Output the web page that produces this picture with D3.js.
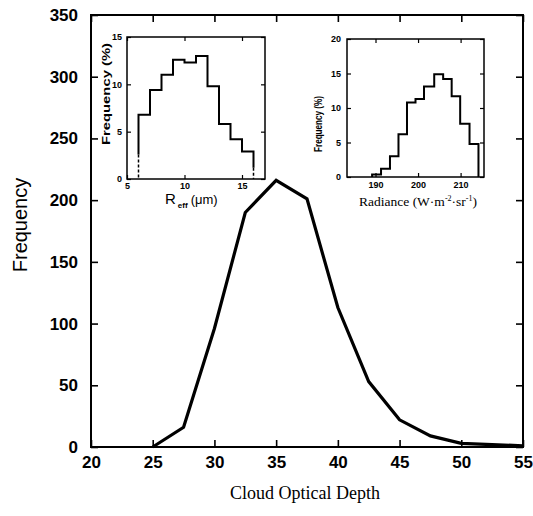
<!DOCTYPE html>
<html>
<head>
<meta charset="utf-8">
<script src="https://cdn.jsdelivr.net/npm/d3@7"></script>
<style>
  html, body { margin: 0; padding: 0; background: #fff; }
  svg { display: block; }
</style>
</head>
<body>
<svg id="chart" width="533" height="516"></svg>
<script>
// ---- Main chart data ----
const opticalDepth = [25, 27.5, 30, 32.5, 35, 37.5, 40, 42.5, 45, 47.5, 50, 52.5, 55];
const frequency    = [0, 16, 96, 190, 216, 201, 113, 53, 22, 9, 3, 2, 1];
const mainXTicks = [20, 25, 30, 35, 40, 45, 50, 55];
const mainYTicks = [0, 50, 100, 150, 200, 250, 300, 350];

// ---- Inset 1: effective radius histogram ----
const reffEdges  = [6, 7, 8, 9, 10, 11, 12, 13, 14, 15, 16];
const reffFreq   = [6.8, 9.4, 11.0, 12.6, 12.3, 13.0, 9.8, 5.8, 4.2, 2.9];
const reffDashTop = [2.6, 1.2]; // solid part ends here on left / right edges (dashed below)
const reffXTicks = [5, 10, 15];
const reffYTicks = [0, 5, 10, 15];

// ---- Inset 2: radiance histogram ----
const radEdges = [189.2, 191.3, 193.4, 195.4, 197.4, 199.4, 201.4, 203.8, 205.9, 207.9, 209.9, 212.1, 214.2];
const radFreq  = [0.35, 1.2, 3.0, 6.2, 10.8, 11.3, 13.1, 14.9, 14.2, 11.7, 7.7, 4.8];
const radXTicks = [190, 200, 210];
const radYTicks = [0, 5, 10, 15, 20];

const svg = d3.select("#chart");
const sans = "'Liberation Sans', Arial, Helvetica, sans-serif";
const serif = "'Liberation Serif', 'Times New Roman', Times, serif";

// ---------- Main plot ----------
const M = {left: 91, right: 523, top: 15, bottom: 447};
const x = d3.scaleLinear().domain([20, 55]).range([M.left, M.right]);
const y = d3.scaleLinear().domain([0, 350]).range([M.bottom, M.top]);

function styleAxis(g, size, weight) {
  g.select(".domain").remove();
  g.selectAll(".tick line").attr("stroke", "#000").attr("stroke-width", 1.6);
  g.selectAll("text").attr("fill", "#000").style("font-family", sans)
    .style("font-size", size + "px").style("font-weight", weight);
}

svg.append("g").attr("transform", `translate(${M.left},0)`)
  .call(d3.axisLeft(y).tickValues(mainYTicks).tickSize(-7).tickPadding(13))
  .call(g => styleAxis(g, 17, "bold"));
svg.append("g").attr("transform", `translate(${M.right},0)`)
  .call(d3.axisRight(y).tickValues(mainYTicks).tickSize(-7).tickFormat(""))
  .call(g => styleAxis(g, 17, "bold"));
svg.append("g").attr("transform", `translate(0,${M.bottom})`)
  .call(d3.axisBottom(x).tickValues(mainXTicks).tickSize(-7).tickPadding(9))
  .call(g => styleAxis(g, 17, "bold"));
svg.append("g").attr("transform", `translate(0,${M.top})`)
  .call(d3.axisTop(x).tickValues(mainXTicks).tickSize(-7).tickFormat(""))
  .call(g => styleAxis(g, 17, "bold"));

svg.append("rect")
  .attr("x", M.left).attr("y", M.top)
  .attr("width", M.right - M.left).attr("height", M.bottom - M.top)
  .attr("fill", "none").attr("stroke", "#000").attr("stroke-width", 2);

const line = d3.line().x((d, i) => x(opticalDepth[i])).y(d => y(d));
svg.append("path").datum(frequency)
  .attr("d", line).attr("fill", "none")
  .attr("stroke", "#000").attr("stroke-width", 3.2)
  .attr("stroke-linejoin", "miter");

svg.append("text")
  .attr("transform", `translate(27,225) rotate(-90)`)
  .attr("text-anchor", "middle")
  .style("font-family", sans).style("font-size", "20px")
  .text("Frequency");

svg.append("text")
  .attr("x", 305).attr("y", 499)
  .attr("text-anchor", "middle")
  .style("font-family", serif).style("font-size", "18px")
  .text("Cloud Optical Depth");

// ---------- Insets ----------
function inset(box, xDom, yDom, xTicks, yTicks, yPadL, xPad) {
  const sx = d3.scaleLinear().domain(xDom).range([box.left, box.right]);
  const sy = d3.scaleLinear().domain(yDom).range([box.bottom, box.top]);
  const g = svg.append("g");
  g.append("rect").attr("x", box.left).attr("y", box.top)
    .attr("width", box.right - box.left).attr("height", box.bottom - box.top)
    .attr("fill", "#fff").attr("stroke", "#000").attr("stroke-width", 1.5);
  g.append("g").attr("transform", `translate(${box.left},0)`)
    .call(d3.axisLeft(sy).tickValues(yTicks).tickSize(-4).tickPadding(yPadL))
    .call(a => styleAxis(a, 9, "bold"));
  g.append("g").attr("transform", `translate(${box.right},0)`)
    .call(d3.axisRight(sy).tickValues(yTicks).tickSize(-4).tickFormat(""))
    .call(a => styleAxis(a, 9, "bold"));
  g.append("g").attr("transform", `translate(0,${box.bottom})`)
    .call(d3.axisBottom(sx).tickValues(xTicks).tickSize(-4).tickPadding(xPad))
    .call(a => styleAxis(a, 9, "bold"));
  g.append("g").attr("transform", `translate(0,${box.top})`)
    .call(d3.axisTop(sx).tickValues(xTicks).tickSize(-4).tickFormat(""))
    .call(a => styleAxis(a, 9, "bold"));
  g.selectAll(".tick line").attr("stroke-width", 1.2);
  return {sx, sy, g};
}

function stepPath(sx, sy, edges, vals, startY, endY) {
  const p = d3.path();
  p.moveTo(sx(edges[0]), sy(startY));
  vals.forEach((v, i) => {
    p.lineTo(sx(edges[i]), sy(v));
    p.lineTo(sx(edges[i + 1]), sy(v));
  });
  p.lineTo(sx(edges[edges.length - 1]), sy(endY));
  return p.toString();
}

// Inset 1
const in1 = inset({left: 127, right: 265, top: 37, bottom: 179}, [5, 17], [0, 15],
  reffXTicks, reffYTicks, 5, 4);
in1.g.append("path")
  .attr("d", stepPath(in1.sx, in1.sy, reffEdges, reffFreq, reffDashTop[0], reffDashTop[1]))
  .attr("fill", "none").attr("stroke", "#000").attr("stroke-width", 2);
[[reffEdges[0], reffDashTop[0]], [reffEdges[reffEdges.length - 1], reffDashTop[1]]].forEach(([e, t]) => {
  in1.g.append("line")
    .attr("x1", in1.sx(e)).attr("x2", in1.sx(e))
    .attr("y1", in1.sy(t)).attr("y2", in1.sy(0))
    .attr("stroke", "#000").attr("stroke-width", 1.5).attr("stroke-dasharray", "3,2");
});
in1.g.append("text")
  .attr("transform", `translate(110,94) rotate(-90)`)
  .attr("text-anchor", "middle")
  .attr("textLength", 102).attr("lengthAdjust", "spacingAndGlyphs")
  .style("font-family", sans).style("font-size", "11px").style("font-weight", "bold")
  .text("Frequency (%)");
const rl = in1.g.append("text")
  .attr("x", 165).attr("y", 204)
  .style("font-family", sans).style("font-weight", "bold");
rl.append("tspan").style("font-size", "15px").style("font-weight", "normal").text("R");
rl.append("tspan").style("font-size", "8px").attr("dx", 2).attr("dy", 4).text("eff");
rl.append("tspan").style("font-size", "13px").style("font-weight", "normal").attr("dx", 3).attr("dy", -4).text("(μm)");

// Inset 2
const in2 = inset({left: 347, right: 484, top: 39, bottom: 177}, [183.3, 215.5], [0, 20],
  radXTicks, radYTicks, 6, 5);
in2.g.append("path")
  .attr("d", stepPath(in2.sx, in2.sy, radEdges, radFreq, 0, 0))
  .attr("fill", "none").attr("stroke", "#000").attr("stroke-width", 2);
in2.g.append("text")
  .attr("transform", `translate(322,124) rotate(-90)`)
  .attr("text-anchor", "middle")
  .attr("textLength", 56).attr("lengthAdjust", "spacingAndGlyphs")
  .style("font-family", sans).style("font-size", "10px").style("font-weight", "bold")
  .text("Frequency (%)");
const rad = in2.g.append("text")
  .attr("x", 418).attr("y", 206).attr("text-anchor", "middle")
  .style("font-family", serif).style("font-size", "13.5px");
rad.append("tspan").text("Radiance (W·m");
rad.append("tspan").style("font-size", "8px").attr("dy", -5).text("-2");
rad.append("tspan").attr("dy", 5).text("·sr");
rad.append("tspan").style("font-size", "8px").attr("dy", -5).text("-1");
rad.append("tspan").attr("dy", 5).text(")");
</script>
</body>
</html>
